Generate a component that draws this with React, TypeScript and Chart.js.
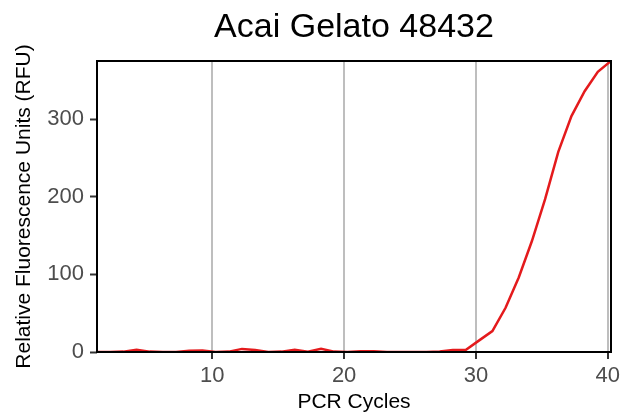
import React, { useEffect, useRef } from "react";
import { Chart, registerables } from "chart.js";

Chart.register(...registerables);

const chartTitle = "Acai Gelato 48432";
const xAxisTitle = "PCR Cycles";
const yAxisTitle = "Relative Fluorescence Units (RFU)";

const cycles = [
  1.25, 2.25, 3.25, 4.25, 5.25, 6.25, 7.25, 8.25, 9.25, 10.25,
  11.25, 12.25, 13.25, 14.25, 15.25, 16.25, 17.25, 18.25, 19.25, 20.25,
  21.25, 22.25, 23.25, 24.25, 25.25, 26.25, 27.25, 28.25, 29.25, 30.25,
  31.25, 32.25, 33.25, 34.25, 35.25, 36.25, 37.25, 38.25, 39.25, 40.25,
];

const rfu = [
  0, 0, 0.5, 3, 0.5, 0, 0, 1.5, 2, 0,
  0.5, 4, 2.5, 0, 0.5, 3, 0.5, 4, 0.5, 0,
  1, 1, 0, 0, 0, 0, 0.5, 2.5, 3, 15,
  27, 57, 96, 143, 197, 258, 304, 336, 361, 375,
];

const xTicks = [10, 20, 30, 40];
const yTicks = [0, 100, 200, 300];

const FONT = "'Liberation Sans', Arial, Helvetica, sans-serif";

const frame = {
  id: "frame",
  afterDatasetsDraw(chart: any) {
    const { ctx, chartArea } = chart;
    ctx.save();
    ctx.strokeStyle = "#000000";
    ctx.lineWidth = 2;
    ctx.strokeRect(
      chartArea.left,
      chartArea.top,
      chartArea.right - chartArea.left,
      chartArea.bottom - chartArea.top
    );
    ctx.restore();
  },
};

export default function App() {
  const ref = useRef<HTMLCanvasElement | null>(null);

  useEffect(() => {
    if (!ref.current) return;
    const chart = new Chart(ref.current, {
      type: "line",
      data: {
        datasets: [
          {
            data: cycles.map((c, i) => ({ x: c, y: rfu[i] })),
            borderColor: "#E41A1C",
            borderWidth: 2.5,
            pointRadius: 0,
            tension: 0,
            fill: false,
          },
        ],
      },
      options: {
        responsive: false,
        animation: false,
        layout: { padding: { left: 0, right: 21, top: 0, bottom: 0 } },
        plugins: {
          legend: { display: false },
          tooltip: { enabled: false },
          title: {
            display: true,
            text: chartTitle,
            fullSize: false,
            color: "#000000",
            font: { family: FONT, size: 34, weight: "normal" },
            padding: { top: 7, bottom: 13.2 },
          },
        },
        scales: {
          x: {
            type: "linear",
            min: cycles[0],
            max: cycles[cycles.length - 1],
            afterBuildTicks: (s: any) => {
              s.ticks = xTicks.map((v) => ({ value: v }));
            },
            afterFit: (s: any) => {
              s.height = 67;
            },
            border: { display: false },
            grid: {
              color: "#BEBEBE",
              lineWidth: 2,
              drawTicks: true,
              tickLength: 7,
              tickColor: "#333333",
              tickWidth: 2,
            },
            ticks: {
              color: "#4D4D4D",
              font: { family: FONT, size: 22 },
              padding: 4,
              maxRotation: 0,
            },
            title: {
              display: true,
              text: xAxisTitle,
              color: "#000000",
              font: { family: FONT, size: 21 },
              padding: { top: 0, bottom: 4 },
            },
          },
          y: {
            type: "linear",
            min: 0,
            max: 375,
            afterBuildTicks: (s: any) => {
              s.ticks = yTicks.map((v) => ({ value: v }));
            },
            afterFit: (s: any) => {
              s.width = 97;
            },
            border: { display: false },
            grid: {
              drawOnChartArea: false,
              drawTicks: true,
              tickLength: 7,
              tickColor: "#333333",
              tickWidth: 2,
            },
            ticks: {
              color: "#4D4D4D",
              font: { family: FONT, size: 22 },
              padding: 6,
            },
            title: {
              display: true,
              text: yAxisTitle,
              color: "#000000",
              font: { family: FONT, size: 21 },
              padding: { top: 12, bottom: 0 },
            },
          },
        },
      },
      plugins: [frame],
    } as any);
    return () => chart.destroy();
  }, []);

  return (
    <div style={{ position: "absolute", left: 0, top: 0, width: 632, height: 419, background: "#ffffff" }}>
      <canvas ref={ref} width={632} height={419} style={{ display: "block", width: 632, height: 419 }} />
    </div>
  );
}
